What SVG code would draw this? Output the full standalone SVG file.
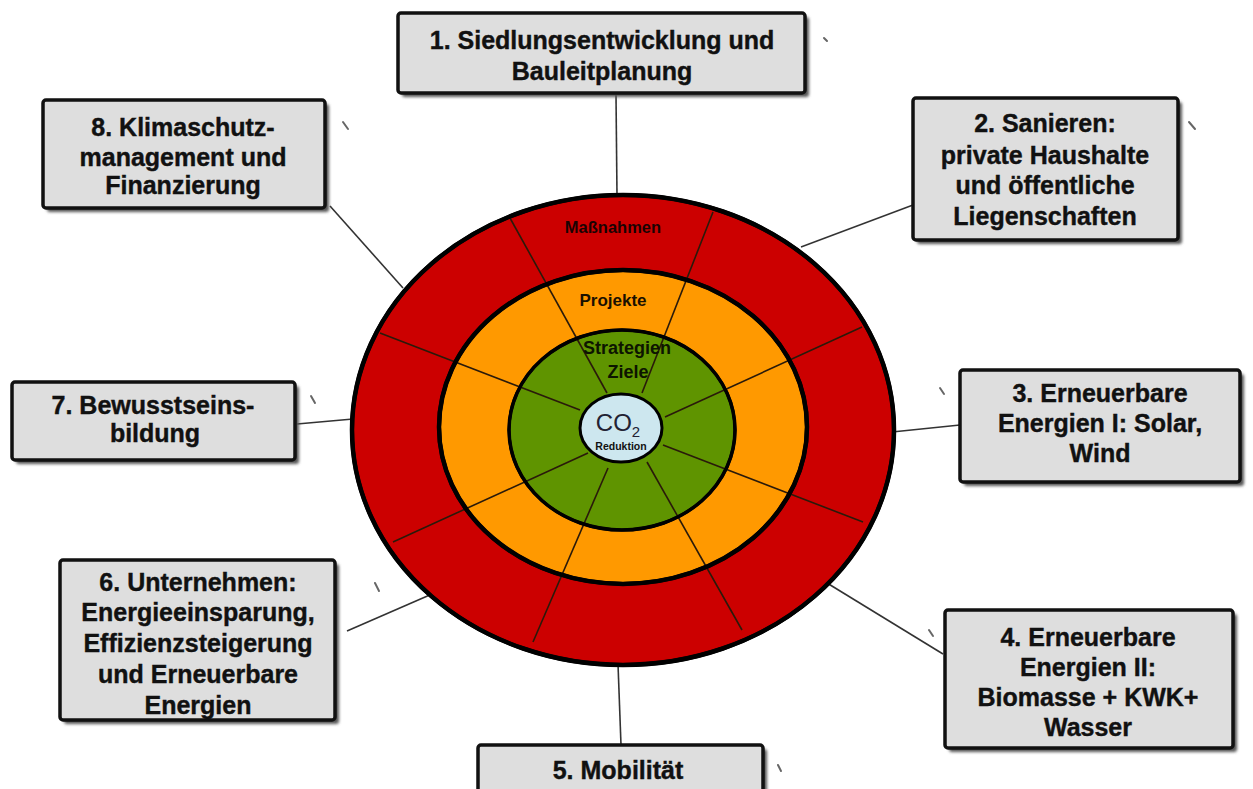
<svg xmlns="http://www.w3.org/2000/svg" width="1253" height="789" viewBox="0 0 1253 789">
<defs>
<filter id="sh" x="-10%" y="-10%" width="130%" height="130%">
<feGaussianBlur stdDeviation="1.5"/>
</filter>
</defs>
<style>
.box{fill:#dedede;stroke:#111;stroke-width:3.5}
.shadow{fill:#555;filter:url(#sh)}
.bt{font-family:"Liberation Sans",Arial,sans-serif;font-weight:bold;font-size:25px;fill:#111;stroke:#111;stroke-width:0.4;text-anchor:middle}
.con{stroke:#333;stroke-width:1.6;fill:none}
.rad{stroke:#2a1a0a;stroke-width:1.6}
.ring{stroke:#000}
.lbl{font-family:"Liberation Sans",Arial,sans-serif;font-weight:bold;text-anchor:middle}
.mark{stroke:#666;stroke-width:2;stroke-linecap:round}
</style>
<rect width="1253" height="789" fill="#fff"/>

<g id="connectors">
<line class="con" x1="616" y1="95" x2="617" y2="196"/>
<line class="con" x1="913" y1="205" x2="801" y2="247"/>
<line class="con" x1="892" y1="432" x2="960" y2="425"/>
<line class="con" x1="827" y1="583" x2="943" y2="654"/>
<line class="con" x1="618" y1="664" x2="621" y2="745"/>
<line class="con" x1="432" y1="594" x2="347" y2="631"/>
<line class="con" x1="297" y1="424" x2="353" y2="419"/>
<line class="con" x1="330" y1="206" x2="403" y2="288"/>
</g>

<g id="rings">
<ellipse class="ring" cx="623" cy="430" rx="271" ry="235" fill="#cc0000" stroke-width="4"/>
<ellipse class="ring" cx="623" cy="427" rx="184" ry="157" fill="#ff9900" stroke-width="4"/>
<ellipse class="ring" cx="622" cy="430" rx="113" ry="100" fill="#5f9400" stroke-width="3"/>
<g id="radials">
<line class="rad" x1="607" y1="393" x2="510" y2="218"/>
<line class="rad" x1="642" y1="393" x2="713" y2="212"/>
<line class="rad" x1="580" y1="410" x2="380" y2="333"/>
<line class="rad" x1="665" y1="417" x2="862" y2="327"/>
<line class="rad" x1="588" y1="453" x2="393" y2="542"/>
<line class="rad" x1="608" y1="468" x2="533" y2="642"/>
<line class="rad" x1="663" y1="445" x2="863" y2="522"/>
<line class="rad" x1="647" y1="462" x2="742" y2="630"/>
</g>
<ellipse cx="623" cy="430" rx="271" ry="235" fill="none" stroke="#000" stroke-width="4.5"/>
<ellipse cx="623" cy="427" rx="184" ry="157" fill="none" stroke="#000" stroke-width="4.5"/>
<ellipse cx="622" cy="430" rx="113" ry="100" fill="none" stroke="#000" stroke-width="3.5"/>
<text class="lbl" x="613" y="233" font-size="16.5" fill="#1a0303">Maßnahmen</text>
<text class="lbl" x="613" y="306" font-size="17" fill="#1a1000">Projekte</text>
<text class="lbl" x="627" y="354" font-size="18" fill="#0d1500">Strategien</text>
<text class="lbl" x="628" y="378" font-size="18" fill="#0d1500">Ziele</text>
</g>

<g id="co2">
<ellipse cx="621" cy="428" rx="41" ry="34" fill="#cde7ef" stroke="#000" stroke-width="3"/>
<text x="618" y="431" font-family="Liberation Sans,Arial,sans-serif" font-size="24" fill="#223" text-anchor="middle">CO<tspan font-size="15" dy="6">2</tspan></text>
<text class="lbl" x="621" y="450" font-size="10.5" fill="#111">Reduktion</text>
</g>

<g id="n1">
<rect class="shadow" x="402" y="17" width="407" height="80" rx="3"/>
<rect class="box" x="398" y="13" width="407" height="80" rx="3"/>
<text class="bt" x="602" y="49">1. Siedlungsentwicklung  und</text>
<text class="bt" x="602" y="80">Bauleitplanung</text>
</g>
<g id="n2">
<rect class="shadow" x="917" y="102" width="265" height="142" rx="3"/>
<rect class="box" x="913" y="98" width="265" height="142" rx="3"/>
<text class="bt" x="1045" y="132">2. Sanieren:</text>
<text class="bt" x="1045" y="164">private Haushalte</text>
<text class="bt" x="1045" y="194">und öffentliche</text>
<text class="bt" x="1045" y="225">Liegenschaften</text>
</g>
<g id="n3">
<rect class="shadow" x="964" y="374" width="280" height="112" rx="3"/>
<rect class="box" x="960" y="370" width="280" height="112" rx="3"/>
<text class="bt" x="1100" y="402">3. Erneuerbare</text>
<text class="bt" x="1100" y="432">Energien I: Solar,</text>
<text class="bt" x="1100" y="462">Wind</text>
</g>
<g id="n4">
<rect class="shadow" x="949" y="614" width="288" height="138" rx="3"/>
<rect class="box" x="945" y="610" width="288" height="138" rx="3"/>
<text class="bt" x="1088" y="646">4. Erneuerbare</text>
<text class="bt" x="1088" y="676">Energien II:</text>
<text class="bt" x="1088" y="706">Biomasse + KWK+</text>
<text class="bt" x="1088" y="736">Wasser</text>
</g>
<g id="n5">
<rect class="shadow" x="482" y="749" width="285" height="60" rx="3"/>
<rect class="box" x="478" y="745" width="285" height="60" rx="3"/>
<text class="bt" x="618" y="779">5. Mobilität</text>
</g>
<g id="n6">
<rect class="shadow" x="64" y="564" width="275" height="160" rx="3"/>
<rect class="box" x="60" y="560" width="275" height="160" rx="3"/>
<text class="bt" x="198" y="591">6. Unternehmen:</text>
<text class="bt" x="198" y="621">Energieeinsparung,</text>
<text class="bt" x="198" y="652">Effizienzsteigerung</text>
<text class="bt" x="198" y="683">und Erneuerbare</text>
<text class="bt" x="198" y="714">Energien</text>
</g>
<g id="n7">
<rect class="shadow" x="16" y="386" width="283" height="78" rx="3"/>
<rect class="box" x="12" y="382" width="283" height="78" rx="3"/>
<text class="bt" x="153" y="414">7. Bewusstseins-</text>
<text class="bt" x="155" y="442">bildung</text>
</g>
<g id="n8">
<rect class="shadow" x="47" y="104" width="282" height="108" rx="3"/>
<rect class="box" x="43" y="100" width="282" height="108" rx="3"/>
<text class="bt" x="183" y="136">8. Klimaschutz-</text>
<text class="bt" x="183" y="166">management und</text>
<text class="bt" x="183" y="194">Finanzierung</text>
</g>

<g id="marks">
<line class="mark" x1="824" y1="38" x2="827" y2="41"/>
<line class="mark" x1="1189" y1="122" x2="1195" y2="129"/>
<line class="mark" x1="343" y1="122" x2="348" y2="129"/>
<line class="mark" x1="311" y1="396" x2="315" y2="403"/>
<line class="mark" x1="940" y1="388" x2="944" y2="394"/>
<line class="mark" x1="375" y1="583" x2="379" y2="591"/>
<line class="mark" x1="929" y1="630" x2="933" y2="636"/>
<line class="mark" x1="778" y1="765" x2="781" y2="771"/>
</g>
</svg>
